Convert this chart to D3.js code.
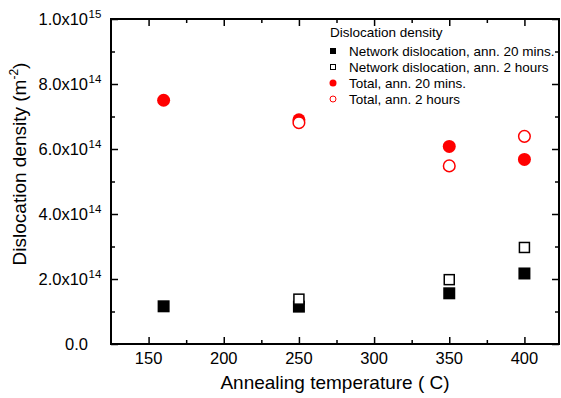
<!DOCTYPE html>
<html>
<head>
<meta charset="utf-8">
<script src="https://cdn.jsdelivr.net/npm/d3@7"></script>
<style>
body { margin: 0; background: #fff; }
text { font-family: "Liberation Sans", Arial, sans-serif; }
</style>
</head>
<body>
<div id="canvas"></div>
<script>
// ----------------------------------------------------------
// DATA -----------------------------------------------------
// ----------------------------------------------------------
var temp_20min = [160, 250, 350, 400];
var network_20min = [1.16e14, 1.15e14, 1.56e14, 2.17e14];
var total_20min = [7.5e14, 6.9e14, 6.08e14, 5.68e14];

var temp_2h = [250, 350, 400];
var network_2h = [1.38e14, 1.98e14, 2.97e14];
var total_2h = [6.81e14, 5.48e14, 6.39e14];

var x_ticks = [150, 200, 250, 300, 350, 400];
var y_ticks = [0, 2e14, 4e14, 6e14, 8e14, 1e15];

var legend_title = "Dislocation density";
var legend_labels = [
  "Network dislocation, ann. 20 mins.",
  "Network dislocation, ann. 2 hours",
  "Total, ann. 20 mins.",
  "Total, ann. 2 hours"
];

// ----------------------------------------------------------
// STRUCTURE ------------------------------------------------
// ----------------------------------------------------------
var W = 561, H = 398;
var plot = { left: 111, right: 559, top: 19, bottom: 344 };
var red = "#ff0000";

var svg = d3.select("#canvas").append("svg")
  .attr("width", W)
  .attr("height", H)
  .style("background-color", "#fff");

var xScale = d3.scaleLinear().domain([125, 423]).range([plot.left, plot.right]);
var yScale = d3.scaleLinear().domain([0, 1e15]).range([plot.bottom, plot.top]);

var x_minor = [175, 225, 275, 325, 375];
var y_minor = [1e14, 3e14, 5e14, 7e14, 9e14];

// ----------------------------------------------------------
// AXES -----------------------------------------------------
// ----------------------------------------------------------
function styleAxis(g) {
  g.select(".domain").remove();
  g.selectAll(".tick line").attr("stroke", "#000").attr("stroke-width", 1.5);
  g.selectAll(".tick text").remove();
}

// bottom + top, ticks pointing inward
svg.append("g").attr("transform", "translate(0," + plot.bottom + ")")
  .call(d3.axisTop(xScale).tickValues(x_ticks).tickSize(7)).call(styleAxis);
svg.append("g").attr("transform", "translate(0," + plot.bottom + ")")
  .call(d3.axisTop(xScale).tickValues(x_minor).tickSize(4)).call(styleAxis);
svg.append("g").attr("transform", "translate(0," + plot.top + ")")
  .call(d3.axisBottom(xScale).tickValues(x_ticks).tickSize(7)).call(styleAxis);
svg.append("g").attr("transform", "translate(0," + plot.top + ")")
  .call(d3.axisBottom(xScale).tickValues(x_minor).tickSize(4)).call(styleAxis);

// left + right
svg.append("g").attr("transform", "translate(" + plot.left + ",0)")
  .call(d3.axisRight(yScale).tickValues(y_ticks).tickSize(7)).call(styleAxis);
svg.append("g").attr("transform", "translate(" + plot.left + ",0)")
  .call(d3.axisRight(yScale).tickValues(y_minor).tickSize(4)).call(styleAxis);
svg.append("g").attr("transform", "translate(" + plot.right + ",0)")
  .call(d3.axisLeft(yScale).tickValues(y_ticks).tickSize(7)).call(styleAxis);
svg.append("g").attr("transform", "translate(" + plot.right + ",0)")
  .call(d3.axisLeft(yScale).tickValues(y_minor).tickSize(4)).call(styleAxis);

// frame
svg.append("rect")
  .attr("x", plot.left).attr("y", plot.top)
  .attr("width", plot.right - plot.left).attr("height", plot.bottom - plot.top)
  .attr("fill", "none").attr("stroke", "#000").attr("stroke-width", 2);

// x tick labels
svg.append("g").selectAll("text")
  .data(x_ticks).enter().append("text")
  .attr("x", function(d) { return xScale(d); })
  .attr("y", plot.bottom + 20)
  .attr("text-anchor", "middle")
  .style("font-size", "16.5px")
  .text(function(d) { return d; });

// y tick labels "m.0x10^e"
var ylab = svg.append("g").selectAll("g")
  .data(y_ticks).enter().append("g")
  .attr("transform", function(d) { return "translate(88," + (yScale(d) + 6) + ")"; });
ylab.append("text")
  .attr("text-anchor", "end")
  .style("font-size", "16.5px")
  .text(function(d) {
    if (d === 0) return "0.0";
    var e = Math.floor(Math.log10(d) + 1e-9);
    return (d / Math.pow(10, e)).toFixed(1) + "x10";
  });
ylab.filter(function(d) { return d !== 0; }).append("text")
  .attr("x", 0.5)
  .attr("y", -7)
  .style("font-size", "11.5px")
  .text(function(d) { return Math.floor(Math.log10(d) + 1e-9); });

// axis titles
svg.append("text")
  .attr("x", (plot.left + plot.right) / 2)
  .attr("y", 389)
  .attr("text-anchor", "middle")
  .style("font-size", "19px")
  .text("Annealing temperature ( C)");

var ytitle = svg.append("text")
  .attr("transform", "translate(26,164) rotate(-90)")
  .attr("text-anchor", "middle")
  .style("font-size", "19px");
ytitle.append("tspan").text("Dislocation density (m");
ytitle.append("tspan").attr("dy", -8).style("font-size", "12px").text("-2");
ytitle.append("tspan").attr("dy", 8).text(")");

// ----------------------------------------------------------
// GFX ------------------------------------------------------
// ----------------------------------------------------------
var gfx = svg.append("g");

// network, 20 mins (filled squares)
gfx.selectAll(".sq_a").data(temp_20min).enter().append("rect")
  .attr("class", "sq_a")
  .attr("x", function(d) { return xScale(d) - 6; })
  .attr("y", function(d, i) { return yScale(network_20min[i]) - 6; })
  .attr("width", 12).attr("height", 12)
  .attr("fill", "#000");
// network, 2 hours (open squares)
gfx.selectAll(".sq_b").data(temp_2h).enter().append("rect")
  .attr("class", "sq_b")
  .attr("x", function(d) { return xScale(d) - 5; })
  .attr("y", function(d, i) { return yScale(network_2h[i]) - 5; })
  .attr("width", 10).attr("height", 10)
  .attr("fill", "#fff").attr("stroke", "#000").attr("stroke-width", 1.5);
// total, 20 mins (filled circles)
gfx.selectAll(".ci_a").data(temp_20min).enter().append("circle")
  .attr("class", "ci_a")
  .attr("cx", function(d) { return xScale(d); })
  .attr("cy", function(d, i) { return yScale(total_20min[i]); })
  .attr("r", 6.5)
  .attr("fill", red);
// total, 2 hours (open circles)
gfx.selectAll(".ci_b").data(temp_2h).enter().append("circle")
  .attr("class", "ci_b")
  .attr("cx", function(d) { return xScale(d); })
  .attr("cy", function(d, i) { return yScale(total_2h[i]); })
  .attr("r", 5.8)
  .attr("fill", "#fff").attr("stroke", red).attr("stroke-width", 1.5);

// ----------------------------------------------------------
// LEGEND ---------------------------------------------------
// ----------------------------------------------------------
var legend = svg.append("g").attr("transform", "translate(330,0)");
legend.append("text")
  .attr("x", 0).attr("y", 37)
  .style("font-size", "13.5px")
  .text(legend_title);

var rows = legend.selectAll(".row").data(legend_labels).enter().append("g")
  .attr("class", "row")
  .attr("transform", function(d, i) { return "translate(0," + (51 + i * 16) + ")"; });
rows.append("text")
  .attr("x", 19).attr("y", 5)
  .style("font-size", "13.5px")
  .text(function(d) { return d; });
rows.each(function(d, i) {
  var g = d3.select(this);
  if (i === 0) g.append("rect").attr("x", 0).attr("y", -3).attr("width", 6).attr("height", 6).attr("fill", "#000");
  if (i === 1) g.append("rect").attr("x", 0.5).attr("y", -2.5).attr("width", 5).attr("height", 5)
    .attr("fill", "#fff").attr("stroke", "#000").attr("stroke-width", 1);
  if (i === 2) g.append("circle").attr("cx", 3).attr("cy", 0).attr("r", 3.5).attr("fill", red);
  if (i === 3) g.append("circle").attr("cx", 3).attr("cy", 0).attr("r", 3).attr("fill", "#fff")
    .attr("stroke", red).attr("stroke-width", 1);
});
</script>
</body>
</html>
